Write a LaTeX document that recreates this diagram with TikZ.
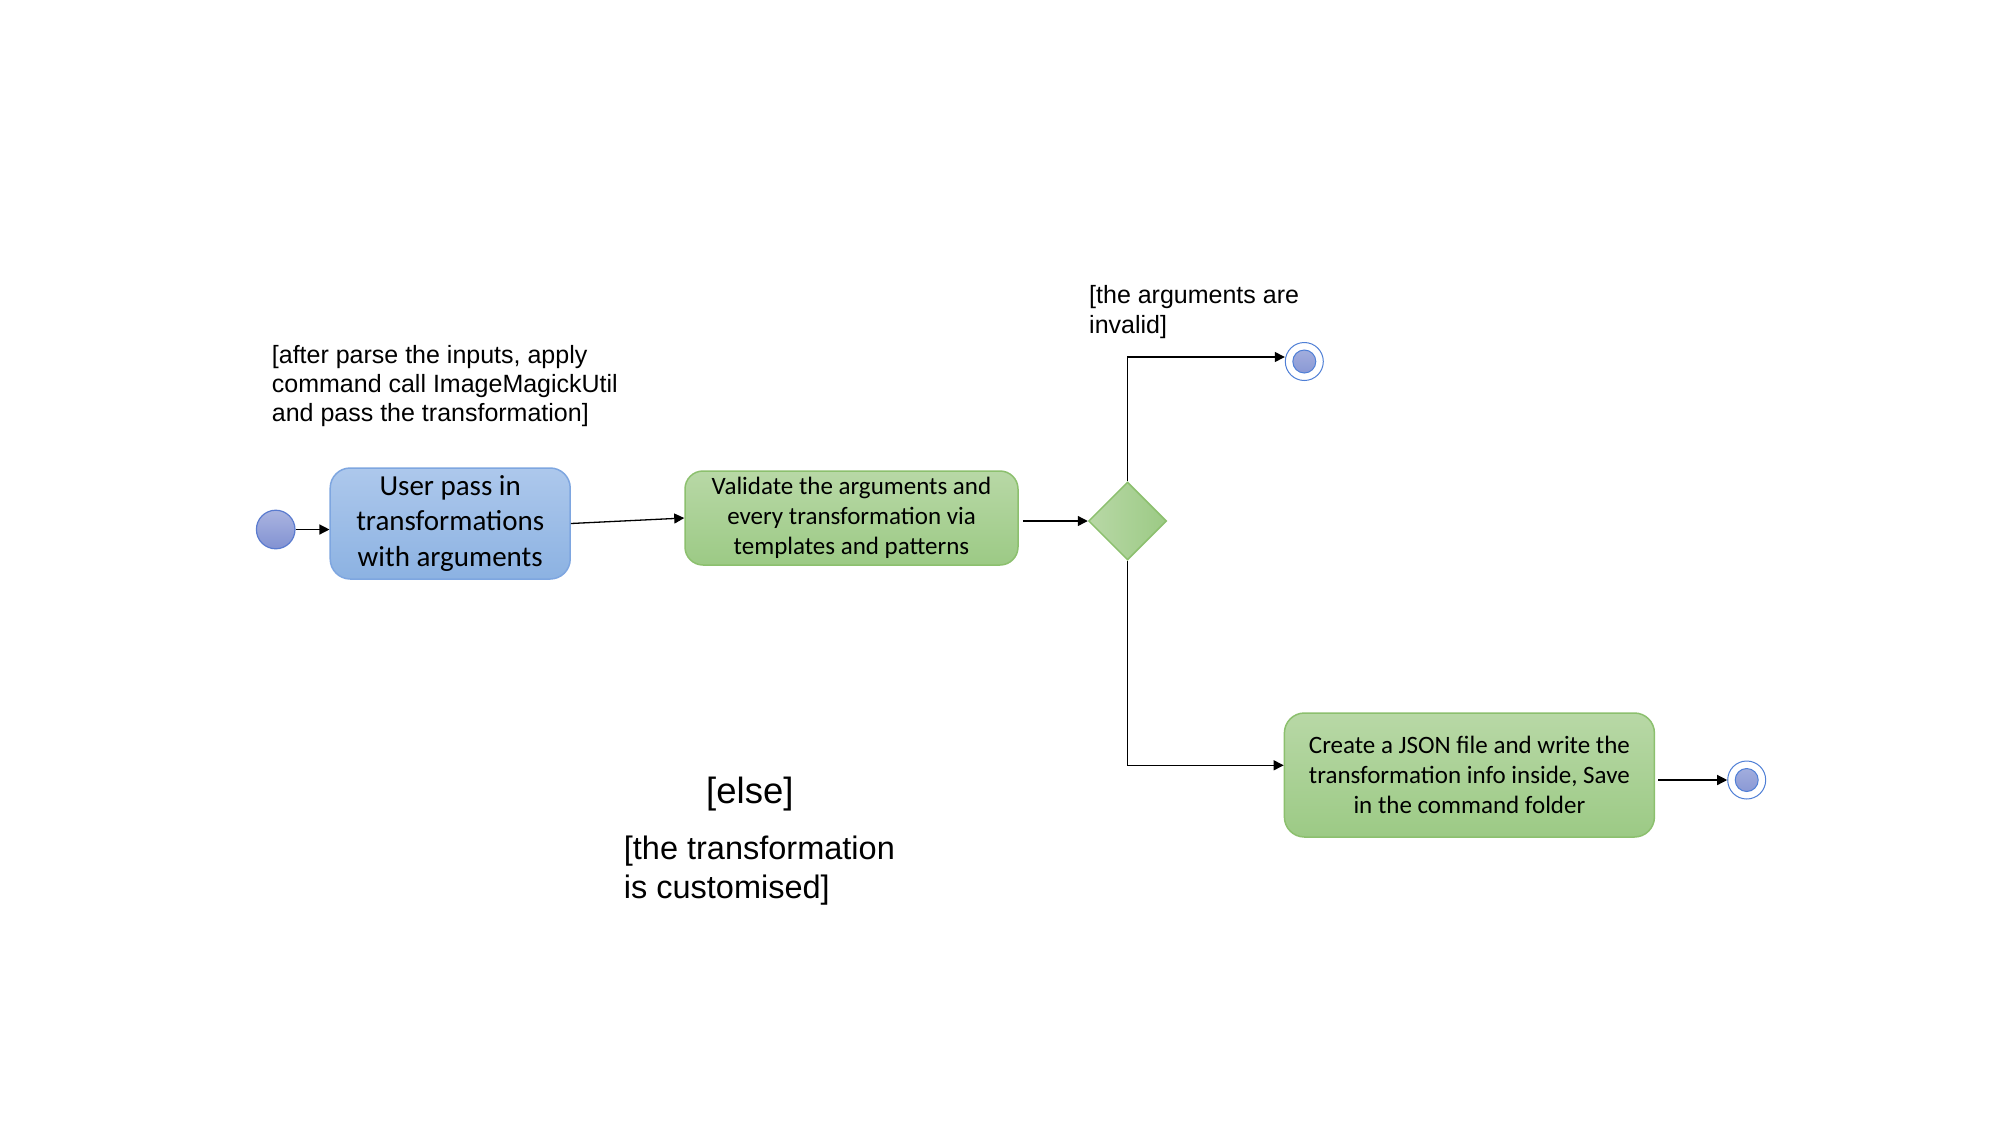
\documentclass[tikz,border=0pt]{standalone}
\usepackage{fontspec}
\setmainfont{Liberation Sans}
\newfontfamily\boxfont{Carlito}
\usetikzlibrary{arrows.meta,shapes.geometric}
\definecolor{bluetop}{HTML}{ADC8EC}
\definecolor{bluebot}{HTML}{8CB2E2}
\definecolor{blueline}{HTML}{7EA6E0}
\definecolor{greentop}{HTML}{B8D8A6}
\definecolor{greenbot}{HTML}{9CCA85}
\definecolor{greenline}{HTML}{8CC06E}
\definecolor{balltop}{HTML}{AAB4E0}
\definecolor{ballbot}{HTML}{8292D2}
\definecolor{ballline}{HTML}{5A7BCF}
\definecolor{ringline}{HTML}{4F7FD6}
\tikzset{
  arr/.style={line width=1.3pt,draw=black,-{Triangle[length=10pt,width=10pt]}},
  startc/.style={circle,minimum size=38.6pt,inner sep=0pt,line width=1.2pt,draw=ballline,top color=balltop,bottom color=ballbot},
  endc/.style={circle,minimum size=38pt,inner sep=0pt,line width=1pt,draw=ringline,fill=white,
    path picture={\shade[top color=balltop,bottom color=ballbot,draw=ringline,line width=1pt] (path picture bounding box.center) circle (11.5pt);}},
  actblue/.style={rounded corners=20pt,draw=blueline,line width=1.5pt,top color=bluetop,bottom color=bluebot,align=center,inner sep=0pt,
    font={\boxfont\fontsize{29}{35.5}\selectfont}},
  actgreen/.style={rounded corners=18pt,draw=greenline,line width=1.5pt,top color=greentop,bottom color=greenbot,align=center,inner sep=0pt,
    font={\boxfont\fontsize{25}{29.8}\selectfont}},
  decision/.style={diamond,minimum size=78pt,inner sep=0pt,draw=greenline,line width=1.5pt,left color=greentop,right color=greenbot},
  lab/.style={anchor=base west,align=left,inner sep=0pt}
}
\begin{document}
\begin{tikzpicture}[x=1pt,y=-1pt]
\useasboundingbox[fill=white] (0,0) rectangle (1999,1122);

\node[startc] (start) at (275.7,529.5) {};
\node[actblue,minimum width=240pt,minimum height=111pt] (user) at (450.2,523.5) {User pass in\\transformations\\with arguments};
\node[actgreen,minimum width=333pt,minimum height=94pt] (valid) at (851.5,518) {Validate the arguments and\\every transformation via\\templates and patterns};
\node[decision] (dec) at (1127.5,521) {};
\node[endc] (end1) at (1304.3,361.5) {};
\node[actgreen,minimum width=370pt,minimum height=124pt,rounded corners=20pt] (json) at (1469.4,775) {Create a JSON file and write the\\transformation info inside, Save\\in the command folder};
\node[endc] (end2) at (1746.7,780) {};

% multi-line labels: anchored at the baseline of their last line
\node[lab,font={\fontsize{25}{29}\selectfont}] (l1) at (271.7,421.3) {[after parse the inputs, apply\\command call ImageMagickUtil\\and pass the transformation]};
\node[lab,font={\fontsize{25}{30}\selectfont}] (l2) at (1089,333) {[the arguments are\\invalid]};
\node[lab,font={\fontsize{36.5}{44}\selectfont}] (l3) at (706,803) {[else]};
\node[lab,font={\fontsize{32.5}{39}\selectfont}] (l4) at (623.7,898) {[the transformation\\is customised]};

\draw[arr] (start.east) -- (start.east -| user.west);
\draw[arr] (user.east) -- (valid.west);
\draw[arr] ([xshift=4pt]valid.east |- dec.west) -- (dec.west);
\draw[arr] (dec.north) |- ([yshift=4.5pt]end1.west);
\draw[arr] (dec.south) |- ([yshift=9.7pt]json.west);
\draw[arr] ([xshift=3pt]json.east |- end2.west) -- (end2.west);
\end{tikzpicture}
\end{document}
